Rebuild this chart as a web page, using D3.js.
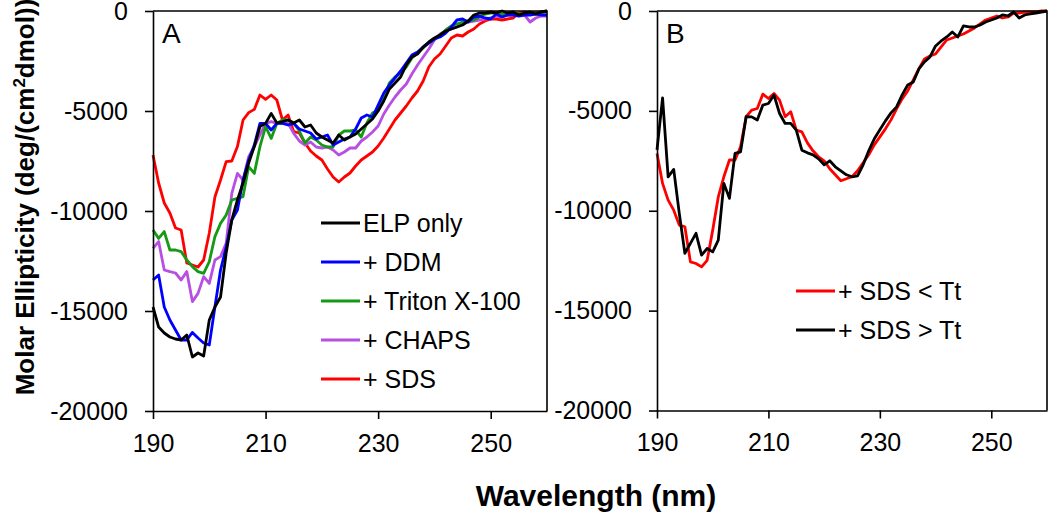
<!DOCTYPE html>
<html><head><meta charset="utf-8">
<script src="https://cdn.jsdelivr.net/npm/d3@7"></script>
<style>
html,body{margin:0;padding:0;background:#fff;}
svg{display:block;font-family:"Liberation Sans",Arial,sans-serif;}
</style></head>
<body>
<svg id="chart" width="1050" height="513"></svg>
<script>
// Wavelength grid (nm)
const wavelengths = d3.range(190, 261, 1);
const xTicks = [190, 210, 230, 250];
const yTicks = [0, -5000, -10000, -15000, -20000];

// Panel A series (molar ellipticity, deg cm^2 dmol^-1)
const elpOnly = [-14800,-15800,-16100,-16300,-16400,-16450,-16200,-17300,-17100,-17250,
 -15450,-14800,-14300,-12100,-10450,-9450,-8600,-7600,-6780,-5780,
 -5620,-5120,-5600,-5530,-5450,-5600,-5450,-5800,-5700,-6100,
 -6300,-6450,-6600,-6200,-6450,-6300,-6150,-5900,-5650,-5400,
 -5000,-4500,-3900,-3600,-3300,-2700,-2300,-2150,-1800,-1550,
 -1350,-1200,-1000,-900,-800,-700,-500,-200,-100,-100,
 -50,-100,0,-100,-50,-200,-100,-50,-150,-50,0];
const ddm = [-13450,-13200,-14800,-15450,-15950,-16450,-16450,-16070,-16350,-16600,
 -16700,-14800,-12950,-11800,-10450,-9950,-8450,-7450,-6700,-5620,
 -5620,-5950,-5620,-5620,-5700,-5620,-5900,-6000,-6100,-6400,
 -6300,-6200,-6700,-6550,-6400,-6300,-5900,-5350,-5200,-5300,
 -4700,-4100,-3700,-3350,-3000,-2600,-2200,-2050,-1800,-1600,
 -1400,-1300,-1100,-800,-450,-400,-550,-300,-250,-350,
 -400,-150,-300,-200,-200,-250,-200,-200,-150,-200,-200];
const triton = [-10950,-11370,-11030,-11950,-11950,-12030,-12450,-12780,-13030,-13120,
 -12530,-11280,-10620,-10200,-9450,-9370,-9280,-7780,-8120,-6780,
 -5780,-6370,-5620,-5450,-5450,-5600,-6000,-6600,-6300,-6450,
 -6700,-6800,-6800,-6200,-6000,-6000,-5950,-6300,-5600,-5100,
 -4950,-4300,-3600,-3300,-3100,-2800,-2350,-2100,-1850,-1600,
 -1400,-1200,-950,-750,-650,-550,-500,-450,-300,-150,
 -100,-100,-150,-200,-100,-150,-150,-100,-100,-50,-50];
const chaps = [-11870,-11530,-12950,-13030,-13100,-13450,-13030,-14530,-14120,-13280,
 -13620,-12450,-12280,-11620,-9120,-8120,-8450,-7280,-6780,-6200,
 -5620,-5530,-5620,-5620,-5620,-6120,-6500,-6700,-6550,-6800,
 -6850,-6800,-6950,-7200,-7050,-6850,-6850,-6500,-6300,-6050,
 -5750,-5150,-4700,-4300,-3950,-3650,-3150,-2700,-2300,-1900,
 -1450,-1150,-1000,-900,-800,-650,-550,-500,-450,-400,
 -350,-250,-300,-200,-200,-200,-200,-550,-350,-250,-250];
const sds = [-7200,-8600,-9600,-10100,-10850,-10950,-12600,-12700,-12800,-12450,
 -11100,-9300,-8450,-7530,-7500,-6780,-5450,-5080,-4920,-4200,
 -4420,-4200,-4450,-5450,-5200,-6030,-6100,-6600,-7000,-7250,
 -7450,-7900,-8300,-8550,-8300,-8100,-7750,-7450,-7250,-7050,
 -6750,-6350,-5900,-5450,-5100,-4750,-4350,-4000,-3500,-2800,
 -2400,-2150,-1750,-1350,-1200,-1250,-1050,-900,-650,-500,
 -400,-400,-450,-400,-350,-100,-50,-100,-100,-50,0];

// Panel B series
const sdsBelowTt = [-7130,-8630,-9470,-9970,-10720,-10800,-12560,-12640,-12810,-12480,
 -10970,-9310,-8300,-7460,-7460,-6800,-5290,-4960,-4880,-4160,
 -4380,-4130,-4460,-5290,-5040,-5960,-6050,-6600,-7000,-7300,
 -7500,-7900,-8200,-8500,-8400,-8300,-8000,-7600,-7200,-6700,
 -6300,-5900,-5450,-4900,-4400,-4000,-3450,-2900,-2400,-2250,
 -2150,-1800,-1450,-1350,-1250,-1150,-1000,-850,-650,-450,
 -350,-250,-350,-300,-100,-100,-50,-50,-50,0,0];
const sdsAboveTt = [-6950,-4350,-8300,-7930,-10130,-12130,-11630,-11130,-12220,-11890,
 -12060,-11470,-8630,-9380,-7130,-7050,-5290,-5300,-5460,-4710,
 -4630,-4210,-5130,-5630,-5630,-5960,-6970,-7100,-7200,-7400,
 -7700,-7500,-7800,-8000,-8200,-8300,-8250,-7700,-7000,-6400,
 -5950,-5500,-5100,-4800,-4200,-3700,-3550,-2900,-2550,-2300,
 -1750,-1500,-1300,-1050,-1300,-750,-800,-800,-700,-550,
 -450,-350,-200,-250,-50,-350,-200,-150,-100,-50,0];

const seriesA = [
  {name: "ELP only", values: elpOnly, color: "#000000"},
  {name: "+ DDM", values: ddm, color: "#0000ff"},
  {name: "+ Triton X-100", values: triton, color: "#169a16"},
  {name: "+ CHAPS", values: chaps, color: "#b84fe3"},
  {name: "+ SDS", values: sds, color: "#ff0000"}
];
const seriesB = [
  {name: "+ SDS < Tt", values: sdsBelowTt, color: "#ff0000"},
  {name: "+ SDS > Tt", values: sdsAboveTt, color: "#000000"}
];

const svg = d3.select("#chart");
const FS = 25;

function panel(opts) {
  const x = d3.scaleLinear().domain([190, 260]).range([opts.x0, opts.x1]);
  const y = d3.scaleLinear().domain([-20000, 0]).range([opts.y1, opts.y0]);
  const g = svg.append("g");

  const line = d3.line().x((d, i) => x(wavelengths[i])).y(d => y(d));
  const drawOrder = opts.drawOrder || opts.series.map((s, i) => i);
  drawOrder.forEach(i => {
    const s = opts.series[i];
    g.append("path").datum(s.values).attr("d", line)
      .attr("fill", "none").attr("stroke", s.color)
      .attr("stroke-width", 2.8).attr("stroke-linejoin", "round");
  });

  // frame
  g.append("path")
    .attr("d", `M${opts.x0},${opts.y0}H${opts.x1}V${opts.y1}`)
    .attr("fill", "none").attr("stroke", "#000").attr("stroke-width", 1.6);

  const yAxis = g.append("g").attr("transform", `translate(${opts.x0},0)`)
    .call(d3.axisLeft(y).tickValues(yTicks).tickFormat(d3.format("d"))
      .tickSize(8).tickSizeOuter(0).tickPadding(17));
  const xAxis = g.append("g").attr("transform", `translate(0,${opts.y1})`)
    .call(d3.axisBottom(x).tickValues(xTicks).tickFormat(d3.format("d"))
      .tickSize(8).tickSizeOuter(0).tickPadding(15));
  [yAxis, xAxis].forEach(a => {
    a.select(".domain").attr("stroke-width", 1.6);
    a.selectAll(".tick line").attr("stroke-width", 1.6);
    a.selectAll("text").attr("font-size", FS).attr("fill", "#000")
      .attr("font-family", "Liberation Sans, Arial, sans-serif");
  });
  yAxis.selectAll("text").text(d => d === 0 ? "0" : String(d));

  // panel letter
  g.append("text").attr("x", opts.x0 + 9).attr("y", 43)
    .attr("font-size", 28).text(opts.letter);

  // legend
  opts.series.forEach((s, i) => {
    const ly = opts.legY + i * opts.legDy;
    g.append("line").attr("x1", opts.legX).attr("x2", opts.legX + 39)
      .attr("y1", ly).attr("y2", ly).attr("stroke", s.color).attr("stroke-width", 2.8);
    g.append("text").attr("x", opts.legX + 42).attr("y", ly).attr("dy", "0.35em")
      .attr("font-size", FS).text(s.name);
  });
}

panel({x0: 153, x1: 547, y0: 11, y1: 411, series: seriesA, letter: "A",
  drawOrder: [4, 3, 2, 1, 0], legX: 321, legY: 223, legDy: 39});
panel({x0: 657, x1: 1047, y0: 11, y1: 410.5, series: seriesB, letter: "B",
  drawOrder: [0, 1], legX: 796, legY: 291, legDy: 39});

// axis titles
svg.append("text").attr("x", 596).attr("y", 506).attr("text-anchor", "middle")
  .attr("font-size", 30).attr("font-weight", "bold").text("Wavelength (nm)");
const yt = svg.append("text").attr("transform", "translate(34,197) rotate(-90)")
  .attr("text-anchor", "middle").attr("font-size", 26).attr("font-weight", "bold");
yt.append("tspan").text("Molar Ellipticity (deg/(cm");
yt.append("tspan").attr("font-size", 17).attr("dy", -9).text("2");
yt.append("tspan").attr("dy", 9).text("dmol))");
</script>
</body></html>
